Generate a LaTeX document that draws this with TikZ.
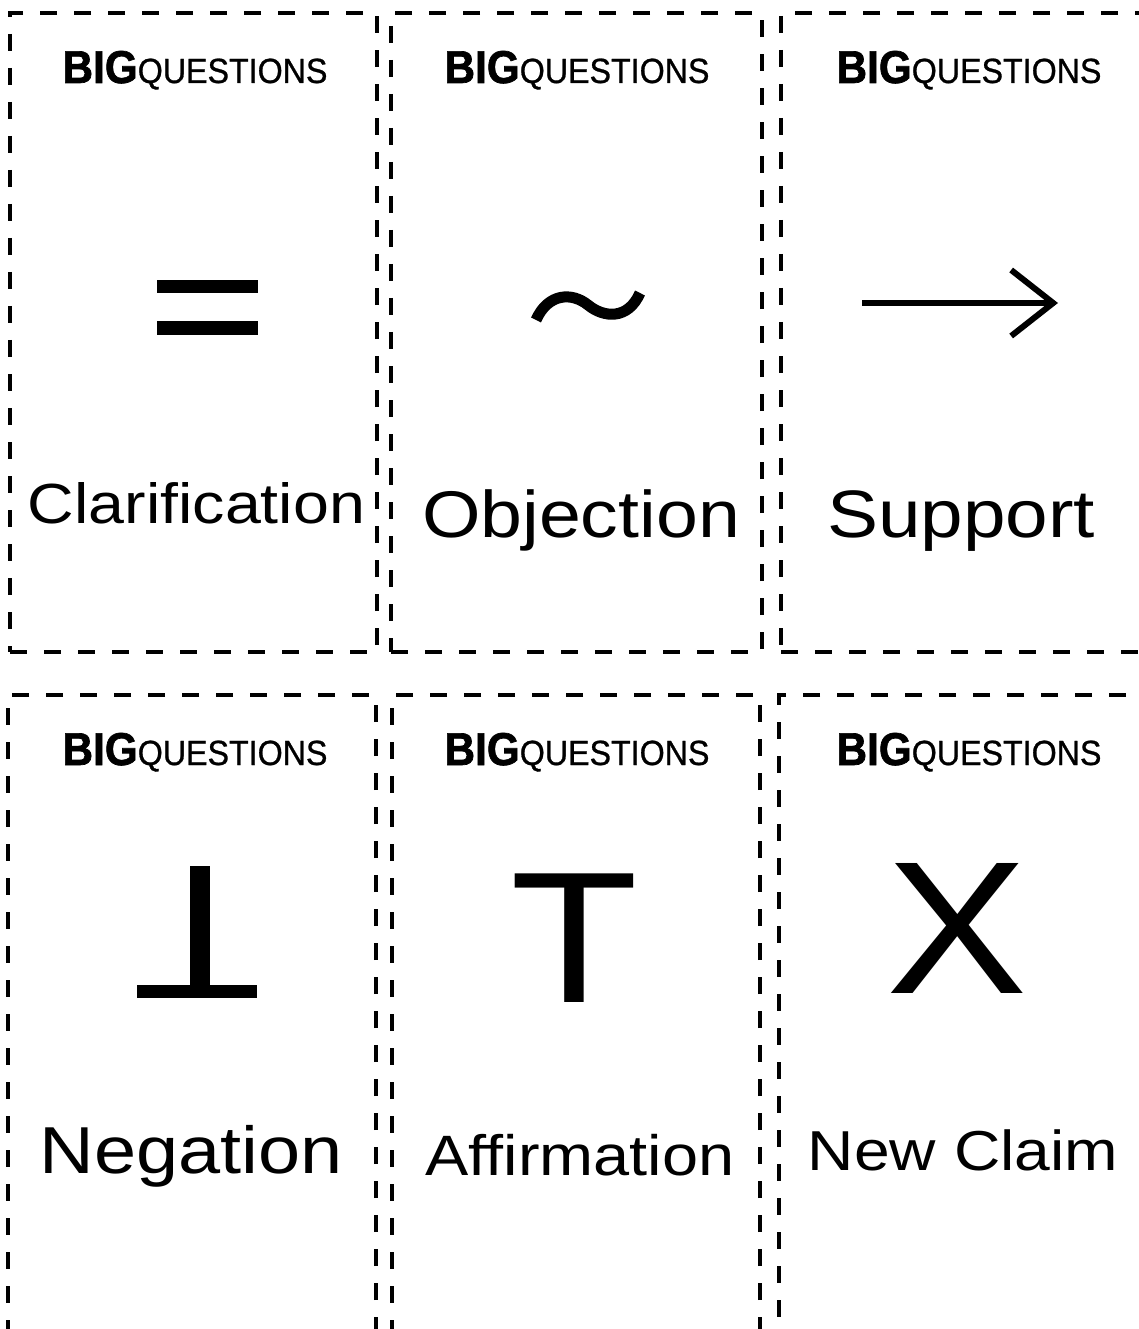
\documentclass[tikz,border=0pt]{standalone}
\usepackage{fontspec}
\setmainfont{Liberation Sans}
\newfontfamily\heavyfont{Liberation Sans Bold}[FakeBold=1.5]
\newfontfamily\medfont{Liberation Sans}[FakeBold=0.8]
\usetikzlibrary{arrows.meta}

\tikzset{
  card/.style={draw, line width=4pt, dash pattern=on 17pt off 17pt,
    minimum height=#1, inner sep=0pt},
  hdr/.style={anchor=base, inner sep=0pt, xscale=0.92, transform shape},
  lbl/.style={anchor=base, inner sep=0pt, xscale=1.14, transform shape},
  glyph/.style={anchor=base, inner sep=0pt, xscale=1.12, transform shape}
}
\newcommand{\bigq}{{\heavyfont\fontsize{46}{46}\selectfont BIG}{\medfont\fontsize{35}{35}\selectfont QUESTIONS}}

\begin{document}
\begin{tikzpicture}[x=1pt, y=-1pt]
  \fill[white] (0,0) rectangle (1139,1329);
  \useasboundingbox (0,0) rectangle (1139,1329);

  % cards, top row
  \node[card=639pt, minimum width=367pt] (clar) at (193.5,332.5) {};
  \node[card=639pt, minimum width=371pt] (obj)  at (576.5,332.5) {};
  \node[card=639pt, minimum width=376pt] (supp) at (969,332.5) {};
  % cards, bottom row
  \node[card=645pt, minimum width=368pt] (neg) at (192,1017.5) {};
  \node[card=645pt, minimum width=368pt] (aff) at (576,1017.5) {};
  \node[card=645pt, minimum width=378pt] (new) at (968,1017.5) {};

  % headers
  \node[hdr] (clar-h) at (195,83) {\bigq};
  \node[hdr] (obj-h)  at (577,83) {\bigq};
  \node[hdr] (supp-h) at (969,83) {\bigq};
  \node[hdr] (neg-h)  at (195,765) {\bigq};
  \node[hdr] (aff-h)  at (577,765) {\bigq};
  \node[hdr] (new-h)  at (969,765) {\bigq};

  % symbols
  \fill (157,280) rectangle (258,293);
  \fill (157,321) rectangle (258,335);
  \draw[line width=11pt] (536,320) .. controls (548,293) and (572,292) .. (588,305)
    .. controls (604,318) and (628,320) .. (640,293);
  \coordinate (arr-a) at (862,303);
  \coordinate (arr-b) at (1058,303);
  \draw[line width=6pt, -{Straight Barb[length=42pt, width=66pt]}] (arr-a) -- (arr-b);
  \fill (190,866) rectangle (210,986);
  \fill (137,985) rectangle (257,998);
  \node[glyph, font=\fontsize{187}{187}\selectfont] (aff-s) at (574,1002) {T};
  \node[glyph, font=\fontsize{189}{189}\selectfont] (new-s) at (957,993) {X};

  % labels
  \node[lbl, font=\fontsize{56.6}{56.6}\selectfont] (clar-l) at (196.5,523) {Clarification};
  \node[lbl, font=\fontsize{66}{66}\selectfont]     (obj-l)  at (581,537) {Objection};
  \node[lbl, font=\fontsize{67.1}{67.1}\selectfont] (supp-l) at (961,537) {Support};
  \node[lbl, font=\fontsize{66.4}{66.4}\selectfont] (neg-l)  at (191,1173) {Negation};
  \node[lbl, font=\fontsize{56.9}{56.9}\selectfont] (aff-l)  at (580,1175) {Affirmation};
  \node[lbl, font=\fontsize{56.3}{56.3}\selectfont] (new-l)  at (963,1170) {New Claim};
\end{tikzpicture}
\end{document}
